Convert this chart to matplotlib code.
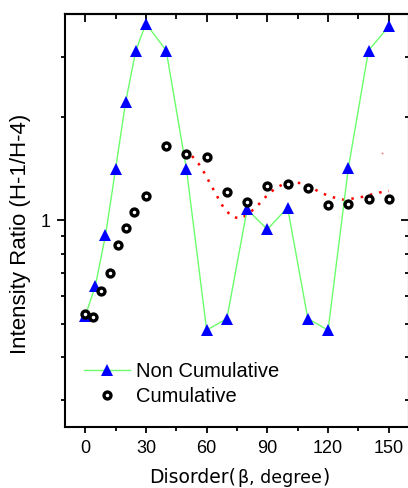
import matplotlib
matplotlib.use("Agg")
import matplotlib.pyplot as plt
from matplotlib.ticker import FixedLocator, NullFormatter, FixedFormatter
from matplotlib.offsetbox import TextArea, HPacker, AnchoredOffsetbox

# non cumulative ratio, one point per disorder step
non_cum_x = [0, 5, 10, 15, 20, 25, 30, 40, 50, 60, 70, 80, 90, 100, 110, 120, 130, 140, 150]
non_cum_y = [0.526, 0.644, 0.904, 1.413, 2.22, 3.13, 3.75, 3.13, 1.413, 0.478, 0.517,
             1.077, 0.941, 1.089, 0.517, 0.478, 1.419, 3.13, 3.68]

# cumulative ratio
cum_x = [0, 4, 8, 12, 16, 20, 24, 30, 40, 50, 60, 70, 80, 90, 100, 110, 120, 130, 140, 150]
cum_y = [0.532, 0.524, 0.621, 0.701, 0.847, 0.948, 1.055, 1.178, 1.65, 1.56, 1.535, 1.212, 1.133,
         1.262, 1.277, 1.245, 1.106, 1.114, 1.154, 1.154]

# smoothed trend through the cumulative points (x >= 50)
fit_x = [48.5, 52.6, 56.2, 58.9, 61.3, 63.7, 66.1, 68.7, 72.7, 77.0, 81.9, 85.9, 89.7, 94.1,
         98.5, 102.6, 106.9, 111.4, 115.6, 120.0, 124.2, 128.3, 132.9, 137.3, 141.8, 145.9, 150.1]
fit_y = [1.58, 1.545, 1.458, 1.375, 1.294, 1.220, 1.149, 1.081, 1.024, 1.011, 1.060, 1.116, 1.180,
         1.243, 1.28, 1.291, 1.283, 1.249, 1.212, 1.180, 1.160, 1.147, 1.160, 1.172, 1.191, 1.207, 1.218]
stray_x = [146.5]
stray_y = [1.57]

x_ticks = [0, 30, 60, 90, 120, 150]
y_major = [1]
y_minor = [0.3, 0.4, 0.5, 0.6, 0.7, 0.8, 0.9, 2, 3]

sans = ["Liberation Sans", "DejaVu Sans"]
plt.rcParams["font.family"] = sans

fig = plt.figure(figsize=(4.08, 4.88), dpi=100)
ax = fig.add_axes([65 / 408, 61.3 / 488, 344 / 408, 412.7 / 488])

ax.plot(fit_x, fit_y, color="red", lw=1.8, dashes=(1, 2.8), zorder=2)
ax.plot(stray_x, stray_y, "o", color="red", ms=1.4, mew=0, alpha=0.5, zorder=2)
ax.plot(non_cum_x, non_cum_y, color="#6cff6c", lw=1.0, marker="^", ms=8.5,
        mfc="#0000ff", mec="#0000ff", mew=0, label="Non Cumulative", zorder=3)
ax.plot(cum_x, cum_y, ls="none", marker="o", ms=5.0, mfc="white", mec="black", mew=2.4,
        label="Cumulative", zorder=4)

ax.set_yscale("log")
ax.set_xlim(-10, 160)
ax.set_ylim(0.25, 4)

ax.xaxis.set_major_locator(FixedLocator(x_ticks))
ax.xaxis.set_minor_locator(FixedLocator([t + 15 for t in x_ticks] + [-15]))
ax.yaxis.set_major_locator(FixedLocator(y_major))
ax.yaxis.set_major_formatter(FixedFormatter(["1"]))
ax.yaxis.set_minor_locator(FixedLocator(y_minor))
ax.yaxis.set_minor_formatter(NullFormatter())

for s in ax.spines.values():
    s.set_linewidth(1.5)

ax.tick_params(axis="both", which="both", width=1.3, labelsize=13, pad=5)
ax.tick_params(axis="x", which="major", direction="out", length=4.5, pad=5)
ax.tick_params(axis="x", which="minor", direction="out", length=3)
ax.tick_params(axis="y", which="major", direction="out", length=5.5, pad=5)
ax.tick_params(axis="y", which="minor", direction="out", length=3)

# inward ticks on the top and right edges
top = ax.secondary_xaxis("top")
top.xaxis.set_major_locator(FixedLocator(x_ticks))
top.xaxis.set_minor_locator(FixedLocator([t + 15 for t in x_ticks] + [-15]))
top.tick_params(which="major", direction="in", length=6, width=1.3, labeltop=False)
top.tick_params(which="minor", direction="in", length=3.5, width=1.3)
top.spines["top"].set_linewidth(1.5)

right = ax.secondary_yaxis("right")
right.yaxis.set_major_locator(FixedLocator(y_major))
right.yaxis.set_minor_locator(FixedLocator(y_minor))
right.yaxis.set_minor_formatter(NullFormatter())
right.tick_params(which="major", direction="in", length=5.5, width=1.3, labelright=False)
right.tick_params(which="minor", direction="in", length=3, width=1.3)
right.spines["right"].set_linewidth(1.5)

ax.set_ylabel("Intensity Ratio (H-1/H-4)", fontsize=16)
ax.yaxis.set_label_coords(-0.099, 0.468)

leg = ax.legend(loc="upper left", bbox_to_anchor=(0.02, 0.187), frameon=False, fontsize=14.5,
                handlelength=2.3, handletextpad=0.3, labelspacing=0.3, borderaxespad=0.2)

# x label with a smaller parenthetical part
parts = [TextArea("Disorder(", textprops=dict(size=13.5, family="DejaVu Sans")),
         TextArea("\u03b2, degree", textprops=dict(size=12.5, family="DejaVu Sans")),
         TextArea(")", textprops=dict(size=13.5, family="DejaVu Sans"))]
xlab = HPacker(children=parts, align="baseline", pad=0, sep=1)
anchored = AnchoredOffsetbox(loc="lower center", child=xlab, pad=0, borderpad=0, frameon=False,
                             bbox_to_anchor=(239.7 / 408, 0.003), bbox_transform=fig.transFigure)
fig.add_artist(anchored)

fig.savefig("out.png", dpi=100)
